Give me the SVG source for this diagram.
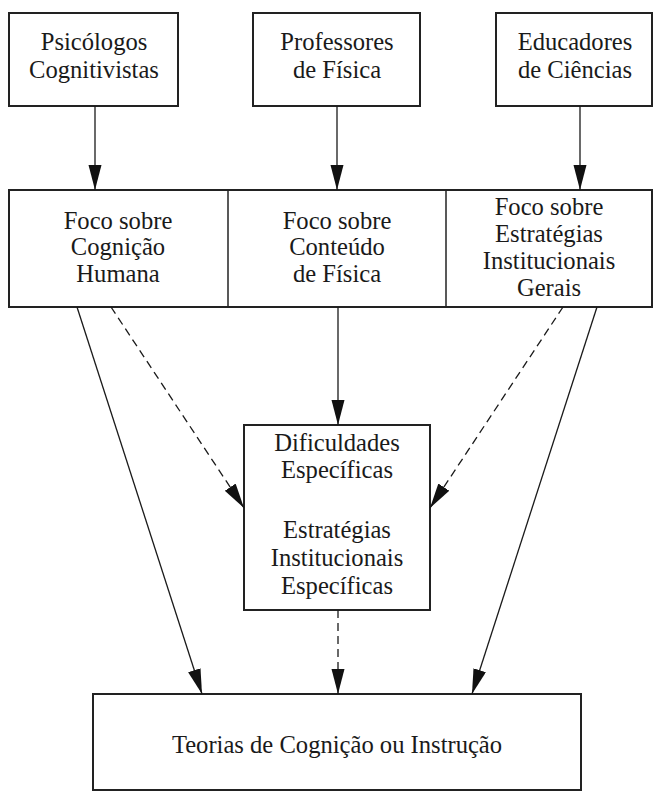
<svg xmlns="http://www.w3.org/2000/svg" width="654" height="792" viewBox="0 0 654 792">
<style>
.box{fill:#fff;stroke:#222;stroke-width:2}
.t{font-family:'Liberation Serif','Times New Roman',Times,'DejaVu Serif',serif;font-size:24.6px;fill:#1a1a1a;text-anchor:middle}
.c{fill:none;stroke:#1a1a1a;stroke-width:1.3}
.d{stroke-dasharray:8 5}
</style>
<defs>
<marker id="ah" markerUnits="userSpaceOnUse" markerWidth="26" markerHeight="14" refX="25" refY="6.5" orient="auto">
<path d="M0,0 L25,6.5 L0,13 z" fill="#111"/>
</marker>
</defs>
<rect width="654" height="792" fill="#fff"/>
<g id="psicologos">
<rect class="box" x="9" y="13" width="169" height="93"/>
<text class="t" x="94" y="50">Psicólogos</text>
<text class="t" x="94" y="78">Cognitivistas</text>
</g>
<g id="professores">
<rect class="box" x="253" y="13" width="167" height="93"/>
<text class="t" x="337" y="50">Professores</text>
<text class="t" x="337" y="78">de Física</text>
</g>
<g id="educadores">
<rect class="box" x="496" y="13" width="156" height="93"/>
<text class="t" x="575" y="50">Educadores</text>
<text class="t" x="575" y="78">de Ciências</text>
</g>
<g id="foco-row">
<rect class="box" x="9" y="190" width="643" height="117"/>
<line x1="228" y1="190" x2="228" y2="307" stroke="#222" stroke-width="1.5"/>
<line x1="446" y1="190" x2="446" y2="307" stroke="#222" stroke-width="1.5"/>
</g>
<g id="foco-cognicao">
<text class="t" x="118" y="229">Foco sobre</text>
<text class="t" x="118" y="255">Cognição</text>
<text class="t" x="118" y="282">Humana</text>
</g>
<g id="foco-conteudo">
<text class="t" x="337" y="229">Foco sobre</text>
<text class="t" x="337" y="255">Conteúdo</text>
<text class="t" x="337" y="282">de Física</text>
</g>
<g id="foco-estrategias">
<text class="t" x="549" y="215">Foco sobre</text>
<text class="t" x="549" y="242">Estratégias</text>
<text class="t" x="549" y="269">Institucionais</text>
<text class="t" x="549" y="296">Gerais</text>
</g>
<g id="dificuldades">
<rect class="box" x="244" y="425" width="186" height="185"/>
<text class="t" x="337" y="451">Dificuldades</text>
<text class="t" x="337" y="478">Específicas</text>
<text class="t" x="337" y="538">Estratégias</text>
<text class="t" x="337" y="566">Institucionais</text>
<text class="t" x="337" y="594">Específicas</text>
</g>
<g id="teorias">
<rect class="box" x="93" y="694" width="488" height="96"/>
<text class="t" x="337" y="753">Teorias de Cognição ou Instrução</text>
</g>
<g id="connectors">
<line class="c" x1="95" y1="106" x2="95" y2="190" marker-end="url(#ah)"/>
<line class="c" x1="337" y1="106" x2="337" y2="190" marker-end="url(#ah)"/>
<line class="c" x1="580" y1="106" x2="580" y2="190" marker-end="url(#ah)"/>
<line class="c" x1="338" y1="307" x2="338" y2="425" marker-end="url(#ah)"/>
<line class="c" x1="77" y1="307" x2="202" y2="694" marker-end="url(#ah)"/>
<line class="c d" x1="111" y1="307" x2="244" y2="508" marker-end="url(#ah)"/>
<line class="c d" x1="563" y1="307" x2="430" y2="508" marker-end="url(#ah)"/>
<line class="c" x1="597" y1="307" x2="472" y2="694" marker-end="url(#ah)"/>
<line class="c d" x1="338" y1="610" x2="338" y2="694" marker-end="url(#ah)"/>
</g>
</svg>
